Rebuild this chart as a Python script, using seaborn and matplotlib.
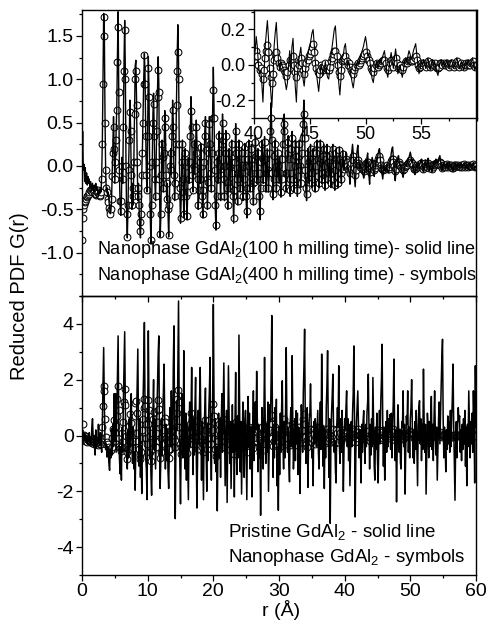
import numpy as np
import pandas as pd
import matplotlib
matplotlib.use("Agg")
import matplotlib.pyplot as plt
import seaborn as sns
from matplotlib.ticker import MultipleLocator

sns.set_theme(style="ticks")
plt.rcParams['font.family'] = ['Liberation Sans', 'DejaVu Sans']
plt.rcParams['mathtext.fontset'] = 'custom'
plt.rcParams['mathtext.rm'] = 'Liberation Sans'
plt.rcParams['mathtext.it'] = 'Liberation Sans:italic'
plt.rcParams['text.color'] = 'black'
plt.rcParams['axes.labelcolor'] = 'black'
plt.rcParams['xtick.color'] = 'black'
plt.rcParams['ytick.color'] = 'black'

# ---------------- data (r grid, 0.1 A step) ----------------
r = np.linspace(0.0, 60.0, 601)

# Nanophase GdAl2, 100 h milling (top panel solid line; bottom panel symbols)
nano100 = [
 0.00, 0.40, -0.05, 0.02, -0.18, -0.02, -0.20, -0.08, -0.22, -0.12,
 -0.20, -0.15, -0.25, -0.18, -0.22, -0.28, -0.20, -0.25, -0.30, -0.22,
 -0.26, -0.20, -0.28, -0.24, -0.30, -0.35, -0.28, -0.32, -0.25, -0.30,
 -0.10, 0.30, 1.05, 1.76, 1.60, 0.60, -0.05, -0.30, -0.25, -0.35,
 -0.30, -0.40, -0.48, -0.55, -0.52, -0.40, -0.10, 0.25, 0.57, 0.20,
 -0.20, 0.10, 0.35, 0.70, 1.30, 1.78, 0.90, -0.10, -0.45, -0.57,
 -0.40, 0.10, -0.20, 0.50, 1.20, 1.68, 1.10, 0.00, -0.60, -0.83,
 -0.50, 0.00, 0.35, 0.76, 0.45, -0.15, -0.50, -0.20, -0.45, 0.10,
 0.70, 1.15, 1.22, 0.80, 0.10, -0.40, -0.20, -0.50, -0.70, -0.83,
 -0.60, -0.10, 0.20, 0.60, 1.00, 1.30, 1.05, 0.40, -0.10, -0.30,
 0.40, 1.26, 0.90, 0.00, -0.60, -0.90, -0.50, 0.10, 0.60, 0.84,
 0.40, -0.20, -0.40, 0.10, 0.50, 0.90, 1.26, 0.95, -0.20, -0.82,
 -0.60, -0.10, 0.30, 0.10, -0.30, 0.20, 0.64, 0.50, -0.10, -0.40,
 -0.20, -0.55, -0.82, -0.50, 0.00, 0.20, -0.10, 0.40, 0.76, 0.50,
 -0.10, -0.40, -0.20, 0.30, 0.80, 1.30, 1.63, 1.20, 0.30, -0.30,
 -0.66, -0.40, 0.10, 0.30, -0.20, -0.60, -0.30, 0.20, 0.00, -0.40,
 -0.62, -0.30, 0.10, -0.20, 0.10, 0.40, 0.80, 0.55, -0.10, -0.30,
 0.00, 0.30, -0.10, 0.20, 0.53, 0.30, -0.20, -0.50, -0.30, 0.10,
 -0.20, 0.26, 0.00, -0.40, -0.60, -0.30, 0.10, 0.40, 0.57, 0.20,
 -0.20, -0.50, -0.20, 0.20, 0.57, 0.30, -0.10, -0.30, 0.20, 0.70,
 1.14, 0.70, -0.10, -0.50, -0.74, -0.40, 0.10, -0.20, 0.20, 0.40,
 0.00, -0.40, -0.10, 0.30, 0.60, 0.35, -0.20, -0.40, 0.00, 0.41,
 0.20, -0.30, -0.50, -0.20, 0.20, 0.00, -0.30, 0.10, 0.30, -0.10,
 -0.40, -0.66, -0.30, 0.10, 0.49, 0.20, -0.20, -0.45, -0.10, 0.30,
 0.10, -0.30, -0.10, 0.20, -0.10, -0.40, -0.20, 0.10, 0.26, 0.00,
 -0.40, -0.60, -0.30, 0.10, 0.30, 0.00, -0.30, -0.10, 0.25, 0.10,
 -0.25, -0.45, -0.20, 0.10, 0.35, 0.15, -0.20, -0.10, 0.20, -0.10,
 -0.40, -0.62, -0.30, 0.05, 0.30, 0.10, -0.20, 0.10, 0.34, 0.10,
 -0.30, -0.10, 0.20, -0.05, -0.30, -0.10, 0.20, 0.50, 0.73, 0.40,
 -0.10, -0.39, -0.20, 0.15, 0.30, 0.00, -0.30, -0.10, 0.20, 0.00,
 -0.20, 0.10, -0.10, -0.36, -0.20, 0.10, 0.30, 0.50, 0.60, 0.30,
 -0.10, -0.30, -0.10, 0.20, 0.35, 0.10, -0.20, -0.35, -0.10, 0.25,
 0.40, 0.10, -0.20, -0.30, 0.00, 0.30, 0.15, -0.20, -0.35, -0.15,
 0.15, 0.30, 0.00, -0.25, -0.05, 0.20, 0.40, 0.60, 0.76, 0.40,
 -0.05, -0.30, -0.40, -0.15, 0.20, 0.05, -0.20, 0.10, 0.25, 0.00,
 -0.25, -0.10, 0.20, 0.05, -0.20, -0.30, 0.00, 0.20, 0.30, 0.10,
 -0.15, -0.25, 0.05, 0.30, 0.10, -0.20, -0.10, 0.15, 0.25, 0.00,
 -0.28, -0.15, 0.10, 0.25, 0.05, -0.20, -0.10, 0.15, 0.00, -0.25,
 -0.10, 0.20, 0.25, 0.00, -0.20, -0.28, -0.05, 0.20, 0.10, -0.15,
 -0.25, 0.00, 0.22, 0.10, -0.10, -0.20, 0.05, 0.18, 0.05, -0.05,
 0.04, 0.08, 0.16, 0.10, 0.00, -0.05, -0.03, -0.10, -0.21, -0.05,
 0.10, 0.18, 0.25, 0.15, -0.05, -0.15, -0.24, -0.10, 0.10, 0.18,
 0.24, 0.12, 0.02, -0.03, 0.02, 0.00, -0.02, -0.06, -0.10, -0.14,
 -0.10, 0.00, 0.08, -0.05, 0.10, 0.15, 0.00, -0.12, -0.21, -0.05,
 0.02, 0.06, 0.10, 0.02, -0.08, -0.12, -0.05, 0.02, 0.05, 0.08,
 0.10, 0.14, 0.18, 0.20, 0.12, 0.02, -0.05, -0.10, -0.15, -0.08,
 0.00, -0.02, -0.06, -0.03, 0.02, -0.04, -0.07, -0.08, -0.02, 0.05,
 0.10, 0.15, 0.20, 0.22, 0.12, 0.00, -0.10, -0.17, -0.08, 0.05,
 0.05, 0.10, 0.12, 0.05, 0.00, 0.02, -0.02, -0.06, -0.10, -0.13,
 -0.08, -0.02, 0.00, 0.02, 0.00, 0.03, 0.06, 0.08, 0.10, 0.13,
 0.16, 0.12, 0.05, 0.06, 0.02, -0.04, -0.08, -0.10, -0.05, 0.00,
 0.02, -0.02, 0.00, 0.03, 0.01, 0.04, 0.06, 0.08, 0.03, -0.04,
 -0.07, -0.02, 0.03, 0.07, 0.02, -0.02, 0.04, 0.09, 0.03, -0.05,
 -0.03, 0.00, -0.04, -0.07, -0.03, 0.02, 0.04, 0.02, 0.05, 0.08,
 0.06, 0.03, 0.05, 0.08, 0.10, 0.12, 0.06, 0.00, -0.05, -0.02,
 0.02, 0.00, 0.03, 0.01, -0.02, 0.02, 0.04, 0.00, -0.03, 0.01,
 0.03, 0.00, 0.02, -0.02, -0.04, -0.06, -0.02, 0.02, 0.03, 0.00,
 0.02, -0.01, 0.01, 0.03, 0.00, -0.02, 0.01, 0.03, 0.01, -0.02,
 0.00, 0.02, 0.04, 0.01, -0.02, 0.00, 0.02, -0.01, -0.03, 0.00,
 0.02, 0.00, 0.03, 0.01, -0.01, 0.02, 0.04, 0.00, -0.03, -0.01,
 0.00,
]

# Nanophase GdAl2, 400 h milling (top panel symbols)
nano400 = [
 -0.85, -0.60, -0.50, -0.45, -0.42, -0.40, -0.38, -0.36, -0.35, -0.33,
 -0.32, -0.30, -0.28, -0.28, -0.29, -0.30, -0.28, -0.27, -0.28, -0.30,
 -0.32, -0.33, -0.32, -0.30, -0.28, -0.30, -0.33, -0.35, -0.33, -0.30,
 -0.15, 0.25, 0.95, 1.72, 1.50, 0.50, -0.05, -0.25, -0.30, -0.38,
 -0.42, -0.48, -0.52, -0.55, -0.50, -0.38, -0.12, 0.15, 0.45, 0.20,
 -0.15, 0.05, 0.30, 0.65, 1.20, 1.60, 0.85, -0.05, -0.40, -0.52,
 -0.40, 0.00, -0.15, 0.45, 1.10, 1.57, 1.00, 0.00, -0.55, -0.82,
 -0.45, -0.05, 0.30, 0.62, 0.40, -0.10, -0.45, -0.25, -0.35, 0.05,
 0.60, 1.00, 1.10, 0.70, 0.05, -0.35, -0.25, -0.45, -0.65, -0.75,
 -0.55, -0.10, 0.15, 0.50, 0.95, 1.28, 0.95, 0.35, -0.10, -0.28,
 0.35, 1.13, 0.80, 0.00, -0.55, -0.85, -0.45, 0.05, 0.50, 0.72,
 0.35, -0.15, -0.35, 0.05, 0.40, 0.80, 1.11, 0.85, -0.15, -0.78,
 -0.55, -0.10, 0.25, 0.10, -0.25, 0.15, 0.55, 0.45, -0.10, -0.38,
 -0.20, -0.50, -0.80, -0.45, 0.00, 0.15, -0.05, 0.35, 0.65, 0.45,
 -0.10, -0.35, -0.20, 0.25, 0.70, 1.10, 1.32, 1.00, 0.25, -0.25,
 -0.60, -0.35, 0.05, 0.25, -0.15, -0.55, -0.30, 0.15, 0.00, -0.35,
 -0.58, -0.30, 0.05, -0.15, 0.05, 0.35, 0.64, 0.45, -0.10, -0.28,
 0.00, 0.25, -0.05, 0.15, 0.45, 0.25, -0.15, -0.45, -0.28, 0.05,
 -0.15, 0.22, 0.00, -0.35, -0.55, -0.28, 0.05, 0.35, 0.50, 0.18,
 -0.15, -0.45, -0.18, 0.15, 0.48, 0.25, -0.08, -0.25, 0.15, 0.55,
 0.88, 0.55, -0.05, -0.45, -0.68, -0.35, 0.05, -0.15, 0.15, 0.35,
 0.00, -0.35, -0.10, 0.25, 0.50, 0.30, -0.15, -0.35, 0.00, 0.35,
 0.15, -0.25, -0.45, -0.18, 0.15, 0.00, -0.25, 0.05, 0.25, -0.08,
 -0.35, -0.60, -0.28, 0.05, 0.40, 0.15, -0.15, -0.40, -0.08, 0.25,
 0.08, -0.25, -0.08, 0.15, -0.08, -0.35, -0.15, 0.08, 0.22, 0.00,
 -0.35, -0.52, -0.25, 0.08, 0.25, 0.00, -0.25, -0.08, 0.20, 0.08,
 -0.20, -0.40, -0.18, 0.08, 0.28, 0.12, -0.15, -0.08, 0.15, -0.08,
 -0.35, -0.52, -0.25, 0.05, 0.25, 0.08, -0.15, 0.08, 0.28, 0.08,
 -0.25, -0.08, 0.15, -0.05, -0.25, -0.08, 0.15, 0.40, 0.55, 0.30,
 -0.08, -0.32, -0.15, 0.12, 0.25, 0.00, -0.25, -0.08, 0.15, 0.00,
 -0.15, 0.08, -0.08, -0.30, -0.15, 0.08, 0.25, 0.40, 0.48, 0.25,
 -0.08, -0.25, -0.08, 0.15, 0.28, 0.08, -0.15, -0.28, -0.08, 0.20,
 0.32, 0.08, -0.15, -0.25, 0.00, 0.25, 0.12, -0.15, -0.28, -0.12,
 0.12, 0.25, 0.00, -0.20, -0.05, 0.15, 0.32, 0.48, 0.60, 0.32,
 -0.05, -0.25, -0.32, -0.12, 0.15, 0.05, -0.15, 0.08, 0.20, 0.00,
 -0.20, -0.08, 0.15, 0.05, -0.15, -0.25, 0.00, 0.15, 0.25, 0.08,
 -0.12, -0.20, 0.05, 0.25, 0.08, -0.15, -0.08, 0.12, 0.20, 0.00,
 -0.22, -0.12, 0.08, 0.20, 0.05, -0.15, -0.08, 0.12, 0.00, -0.20,
 -0.08, 0.15, 0.20, 0.00, -0.15, -0.22, -0.05, 0.15, 0.08, -0.12,
 -0.20, 0.00, 0.18, 0.08, -0.08, -0.15, 0.05, 0.14, 0.05, -0.04,
 0.03, 0.05, 0.08, 0.05, 0.00, -0.03, -0.02, -0.05, -0.08, -0.03,
 0.04, 0.08, 0.11, 0.07, -0.02, -0.07, -0.10, -0.05, 0.03, 0.06,
 0.07, 0.04, 0.01, -0.01, 0.01, 0.00, -0.01, -0.03, -0.04, -0.06,
 -0.04, 0.00, 0.03, -0.02, 0.03, 0.05, 0.00, -0.04, -0.07, -0.02,
 0.00, 0.02, 0.04, 0.01, -0.03, -0.05, -0.02, 0.01, 0.03, 0.05,
 0.06, 0.08, 0.10, 0.12, 0.07, 0.01, -0.02, -0.04, -0.05, -0.03,
 0.00, -0.01, -0.03, -0.01, 0.01, -0.02, -0.03, -0.03, -0.01, 0.02,
 0.04, 0.06, 0.08, 0.08, 0.05, 0.00, -0.04, -0.06, -0.03, 0.02,
 0.03, 0.04, 0.05, 0.02, 0.00, 0.01, -0.01, -0.03, -0.04, -0.05,
 -0.03, -0.01, 0.00, 0.01, 0.00, 0.01, 0.03, 0.04, 0.05, 0.06,
 0.07, 0.05, 0.03, 0.03, 0.01, -0.02, -0.03, -0.04, -0.02, 0.00,
 0.01, -0.01, 0.00, 0.01, 0.01, 0.02, 0.03, 0.03, 0.01, -0.02,
 -0.03, -0.01, 0.01, 0.03, 0.01, -0.01, 0.02, 0.04, 0.01, -0.02,
 -0.01, 0.00, -0.02, -0.03, -0.01, 0.01, 0.02, 0.01, 0.02, 0.03,
 0.03, 0.02, 0.02, 0.03, 0.04, 0.05, 0.03, 0.00, -0.02, -0.01,
 0.01, 0.00, 0.01, 0.00, -0.01, 0.01, 0.02, 0.00, -0.01, 0.00,
 0.01, 0.00, 0.01, -0.01, -0.02, -0.02, -0.01, 0.01, 0.01, 0.00,
 0.01, 0.00, 0.00, 0.01, 0.00, -0.01, 0.00, 0.01, 0.01, -0.01,
 0.00, 0.01, 0.02, 0.00, -0.01, 0.00, 0.01, 0.00, -0.01, 0.00,
 0.01, 0.00, 0.01, 0.00, 0.00, 0.01, 0.02, 0.00, -0.01, 0.00,
 0.00,
]

# Pristine GdAl2 (bottom panel solid line)
pristine = [
 0.00, 0.20, -0.20, 0.10, -0.15, 0.05, -0.25, 0.00, -0.30, -0.10,
 -0.20, 0.10, -0.35, -0.05, -0.25, 0.30, 0.60, -0.10, -0.40, 0.00,
 -0.70, 0.20, -0.45, -0.10, -0.30, 0.40, -0.20, -0.35, 0.10, -0.40,
 -0.60, 0.50, 1.80, 3.15, 1.20, -0.20, -0.50, -0.30, -0.77, -0.40,
 -0.60, -1.00, -1.25, -0.50, -0.80, 0.20, -0.70, 0.40, -0.40, 1.50,
 -0.20, 1.50, -0.60, 0.80, 2.00, 3.57, 0.50, -0.80, -1.37, -0.40,
 -1.60, 0.30, -0.60, 1.20, 2.50, 3.72, 1.00, -0.50, -0.77, -1.20,
 0.20, -0.80, 0.60, -0.40, 0.90, 1.50, -0.20, -1.00, 0.30, -1.20,
 -0.60, -1.96, -0.30, 0.50, 1.80, 3.10, 0.40, -1.10, 0.60, -1.50,
 -0.40, -2.08, 0.20, 1.20, 2.50, 4.05, 1.00, -0.80, -1.20, -2.30,
 0.50, 3.75, 1.20, -0.80, 0.30, -1.40, -2.14, -0.60, 0.80, 2.00,
 -0.50, 0.60, -1.20, -0.30, 0.70, 1.80, 2.90, 3.57, -0.40, -1.90,
 -0.90, 0.60, -0.70, 0.90, 1.60, 2.56, 0.50, -1.20, 0.40, -0.90,
 0.20, -1.30, -1.90, -0.50, 1.00, -0.40, 1.60, 0.30, -0.60, 2.40,
 3.93, 0.50, -2.98, -0.40, 1.20, 0.20, 2.50, 4.82, 1.00, -1.00,
 -2.45, -0.30, 1.50, 0.20, -0.80, 3.04, 0.60, -1.20, 0.80, -1.60,
 0.40, -0.90, -2.30, 0.20, 1.20, -0.40, 0.70, 2.44, 0.30, -1.40,
 0.60, -0.70, 1.00, 2.08, -0.60, -2.60, -0.80, 0.90, -0.30, 1.20,
 2.44, 0.40, -1.60, 0.50, -0.80, -2.30, 0.30, 0.90, 1.70, -0.50,
 -2.00, 0.40, -0.90, 0.80, 1.60, 2.80, -0.30, -1.60, 0.50, 1.20,
 4.70, 1.50, -1.00, 0.60, -1.30, -0.40, -2.70, -0.60, 0.80, -0.80,
 0.60, -1.50, 0.40, 1.50, -0.60, 1.00, 2.60, 0.30, -1.80, -0.50,
 0.90, -2.40, 0.20, 2.50, 0.80, -1.00, 0.50, -1.90, -0.40, 1.10,
 -0.60, 0.40, -2.20, 0.50, 2.26, -0.50, -1.40, 0.70, -0.80, 3.60,
 1.00, -1.30, 0.50, -2.10, -0.50, 1.20, 0.30, -1.50, 0.40, 0.90,
 -0.70, -2.30, 0.40, 1.40, -0.40, 0.80, -1.20, 0.30, -0.60, -2.20,
 0.30, 1.60, -0.90, 0.60, 1.20, 0.20, 2.30, 0.50, -1.30, 0.40,
 -0.80, -0.30, -2.86, -0.50, 1.00, 0.30, -1.20, 0.70, 2.80, 0.60,
 -1.00, 0.40, -0.60, 1.20, -2.00, -0.40, 1.10, 0.50, 2.00, 4.30,
 0.80, -1.50, 0.40, -0.80, 1.00, -0.30, 1.30, -1.80, -0.40, -2.68,
 0.30, -1.40, 0.80, -0.60, 1.00, 1.96, -0.30, -1.20, 0.50, -0.80,
 0.90, 3.15, 0.50, -0.60, 0.30, -1.00, -1.66, 0.40, 1.00, -0.40,
 2.86, 0.60, -1.20, -0.40, 0.60, -0.90, 0.89, -0.30, 0.80, -1.40,
 0.30, -0.70, -2.08, -0.20, 1.10, 0.40, -0.60, 1.50, 2.50, 3.81,
 0.60, -1.00, -0.30, 1.00, -1.86, -0.40, 0.60, 0.80, 1.85, 0.40,
 -0.80, -0.50, -1.80, 0.50, -0.30, 0.60, 0.30, -0.40, 0.20, 0.90,
 -0.60, -1.20, 0.40, 1.20, -0.50, 2.92, 0.50, -1.10, 0.30, -1.90,
 0.20, -0.80, 1.00, 1.80, 3.04, 0.40, -1.50, 0.60, -3.15, -0.40,
 0.80, 1.40, 2.20, 0.30, -0.60, -0.20, -1.30, -1.70, 0.40, 1.00,
 0.30, 2.50, -0.40, -1.00, 0.60, -0.60, 0.90, -0.20, -2.00, -0.50,
 0.60, 0.20, 1.00, 1.60, -0.40, 0.60, -0.90, 0.40, -1.80, -0.60,
 0.50, -0.40, 0.80, 1.50, 3.21, 0.60, -2.92, -0.70, 0.50, 1.10,
 1.60, 0.30, -0.80, 0.20, -0.50, -1.70, 0.40, -0.60, 0.50, 0.89,
 -0.30, -1.00, 0.40, -0.40, 0.80, 1.20, 2.20, 0.30, -1.20, 0.40,
 -0.70, 0.60, -0.40, 2.08, 0.40, -1.10, -1.60, 0.30, -0.50, 0.80,
 -0.90, -1.70, -0.20, 0.90, -0.30, 1.20, 2.00, 3.27, 0.40, -1.10,
 0.30, -1.60, -0.30, 0.50, -0.60, 0.90, -0.40, 0.60, 0.20, 0.75,
 -0.50, 0.80, -0.80, 0.30, 1.20, 2.74, 0.40, -0.90, 0.20, -2.38,
 -0.30, 1.10, 0.40, -0.60, 0.20, -1.00, -1.20, 0.50, 0.30, 1.60,
 -0.40, 0.40, -2.10, -0.50, 0.70, 0.40, 1.60, -0.60, 0.30, -0.80,
 0.60, 1.00, 2.00, 0.40, -0.80, 0.20, -1.00, 0.50, -0.50, 0.90,
 -0.40, -1.80, 0.30, 1.00, 1.25, -0.30, 0.60, -0.90, 0.40, -0.50,
 2.38, 0.50, -0.60, 0.40, -2.10, -0.60, 0.80, 0.30, -0.80, 0.50,
 -0.40, 0.60, 1.40, -0.50, 0.40, -0.90, 0.50, 1.60, 0.20, -0.70,
 0.30, -1.60, -0.40, 0.60, 1.20, -0.30, 0.80, 1.80, 2.80, 3.45,
 0.60, -0.80, 0.30, -0.40, -1.30, 0.20, -0.50, 0.70, -0.30, 0.50,
 -0.60, 0.90, -0.40, 0.60, 1.40, 2.56, 0.40, -1.00, -2.32, -0.40,
 0.50, -0.80, 0.30, 1.00, 0.50, 0.70, -0.60, 0.20, -0.90, 0.40,
 -0.50, 0.60, -0.30, 0.90, -1.10, 0.30, -1.80, 0.40, -0.40, 1.60,
 0.30, -0.80, 0.50, -0.30, 0.80, -0.60, 1.60, 0.60, -1.70, 2.50,
 0.30,
]

assert len(nano100) == len(r) and len(nano400) == len(r) and len(pristine) == len(r), \
    (len(nano100), len(nano400), len(pristine))

df = pd.DataFrame({"r": r, "nano100": nano100, "nano400": nano400, "pristine": pristine})
inset_df = df[df["r"] >= 40.0]

# ---------------- figure ----------------
W, H = 491, 634
fig = plt.figure(figsize=(W / 100, H / 100), dpi=100)
fig.patch.set_facecolor("white")

def fx(px):
    return px / W

def fy(py):
    return 1 - py / H

L, R = 82, 476
ax2 = fig.add_axes([fx(L), fy(575), fx(R) - fx(L), fy(296) - fy(575)])
ax1 = fig.add_axes([fx(L), fy(296), fx(R) - fx(L), fy(10) - fy(296)])
axi = fig.add_axes([fx(254), fy(118), fx(477) - fx(254), fy(10) - fy(118)])
ax1.set_zorder(3)
ax1.patch.set_alpha(0)
axi.set_zorder(2)
axi.patch.set_alpha(0)

lw_line = 1.0
mk = dict(marker="o", s=24, facecolor="white", edgecolor="black", linewidth=0.75)

# top panel
sns.scatterplot(data=df, x="r", y="nano400", ax=ax1, zorder=2, legend=False, **mk)
sns.lineplot(data=df, x="r", y="nano100", ax=ax1, color="black", lw=lw_line,
             estimator=None, sort=False, zorder=3)

# bottom panel
sns.scatterplot(data=df, x="r", y="nano100", ax=ax2, zorder=2, legend=False, **mk)
sns.lineplot(data=df, x="r", y="pristine", ax=ax2, color="black", lw=1.1,
             estimator=None, sort=False, zorder=3)

# inset
sns.scatterplot(data=inset_df, x="r", y="nano400", ax=axi, zorder=2, legend=False, **mk)
sns.lineplot(data=inset_df, x="r", y="nano100", ax=axi, color="black", lw=0.8,
             estimator=None, sort=False, zorder=3)

tick_fs = 14
for ax in (ax1, ax2, axi):
    ax.set_xlabel("")
    ax.set_ylabel("")
    for s in ax.spines.values():
        s.set_visible(True)
        s.set_linewidth(1.0)
        s.set_color("black")
    ax.tick_params(which="both", direction="out", color="black", width=0.9,
                   labelsize=tick_fs, labelcolor="black", top=False, right=False)
    ax.tick_params(which="major", length=4.5, pad=1.5)
    ax.tick_params(which="minor", length=2.5)

ax1.set_xlim(0, 60)
ax1.set_ylim(-1.5, 1.8)
ax1.yaxis.set_minor_locator(MultipleLocator(0.25))
ax1.xaxis.set_major_locator(MultipleLocator(10))
ax1.xaxis.set_minor_locator(MultipleLocator(5))
ax1.tick_params(axis="x", labelbottom=False)
ax1.set_yticks([-1.0, -0.5, 0.0, 0.5, 1.0, 1.5])
ax1.set_yticklabels(["-1.0", "-0.5", "0.0", "0.5", "1.0", "1.5"])

ax2.set_xlim(0, 60)
ax2.set_ylim(-5, 5)
ax2.set_yticks([-4, -2, 0, 2, 4])
ax2.set_yticklabels(["-4", "-2", "0", "2", "4"])
ax2.yaxis.set_minor_locator(MultipleLocator(1))
ax2.xaxis.set_major_locator(MultipleLocator(10))
ax2.xaxis.set_minor_locator(MultipleLocator(5))

axi.set_xlim(40, 60)
axi.set_ylim(-0.3, 0.31)
axi.set_xticks([40, 45, 50, 55])
axi.set_xticklabels(["40", "45", "50", "55"])
axi.xaxis.set_minor_locator(MultipleLocator(2.5))
axi.set_yticks([-0.2, 0.0, 0.2])
axi.set_yticklabels(["-0.2", "0.0", "0.2"])
axi.yaxis.set_minor_locator(MultipleLocator(0.1))
axi.tick_params(labelsize=13)

# annotations
ax1.text(0.038, 0.161, "Nanophase GdAl$_2$(100 h milling time)- solid line",
         transform=ax1.transAxes, ha="left", va="center", fontsize=13)
ax1.text(0.038, 0.070, "Nanophase GdAl$_2$(400 h milling time) - symbols",
         transform=ax1.transAxes, ha="left", va="center", fontsize=13)
ax2.text(0.371, 0.154, "Pristine GdAl$_2$ - solid line",
         transform=ax2.transAxes, ha="left", va="center", fontsize=13.5)
ax2.text(0.371, 0.061, "Nanophase GdAl$_2$ - symbols",
         transform=ax2.transAxes, ha="left", va="center", fontsize=13.5)

fig.text(fx(20), fy(296), "Reduced PDF G(r)", rotation=90, ha="center", va="center",
         fontsize=14.5)
fig.text(fx(281), fy(610), "r (Å)", ha="center", va="center", fontsize=14)

fig.savefig("out.png", dpi=100, facecolor="white")
